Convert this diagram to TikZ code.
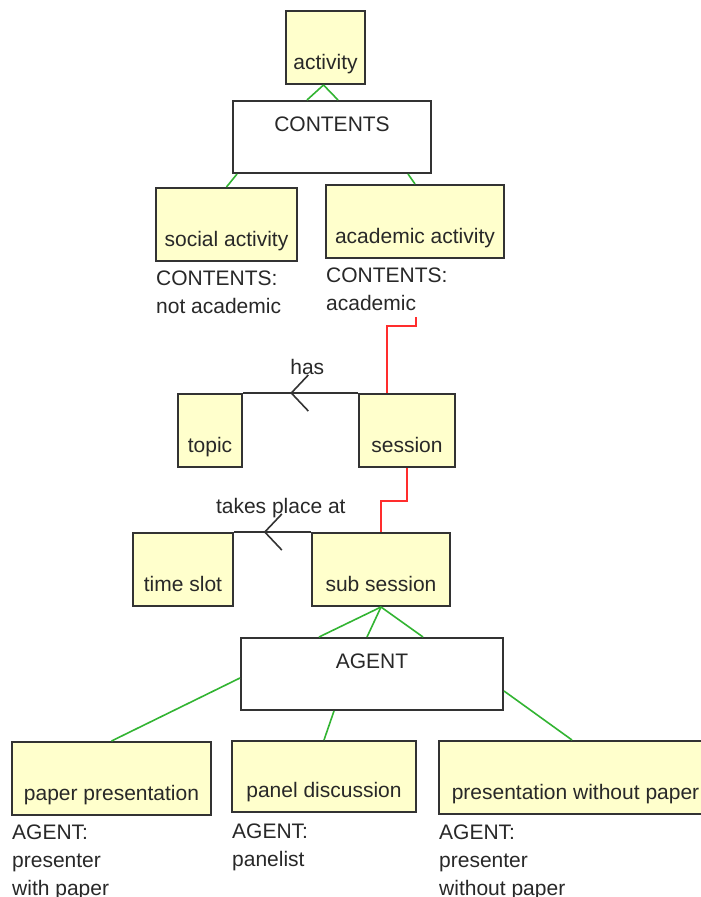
\documentclass[tikz,border=0pt]{standalone}
\usepackage{fontspec}
\setmainfont{Liberation Sans}
\usetikzlibrary{calc}
\definecolor{conceptfill}{RGB}{255,255,204}
\definecolor{edgegray}{RGB}{51,51,51}
\definecolor{txtgray}{RGB}{40,40,40}
\definecolor{isagreen}{RGB}{50,180,50}
\definecolor{linkred}{RGB}{255,45,45}

\begin{document}
\begin{tikzpicture}[x=1pt,y=-1pt,
  every node/.style={font=\fontsize{21}{28}\selectfont, text=txtgray},
  concept/.style={draw=edgegray, line width=2pt, fill=conceptfill, rectangle,
    inner xsep=0pt, inner ysep=0pt, text height=58pt, text depth=15pt, anchor=south},
  context/.style={draw=edgegray, line width=2pt, fill=white, rectangle,
    inner xsep=0pt, inner ysep=0pt, text height=30pt, text depth=42pt, anchor=south},
  note/.style={align=left, anchor=base west, inner sep=0pt},
  isa/.style={draw=isagreen, line width=1.6pt},
  link/.style={draw=linkred, line width=1.6pt},
  rel/.style={draw=edgegray, line width=1.6pt},
  rellabel/.style={anchor=base, inner sep=0pt}]

\path[use as bounding box, fill=white] (0,0) rectangle (701,897);
\clip (0,0) rectangle (701,897);

% concept boxes (placed by their bottom edge)
\node[concept, minimum width=79pt]  (activity)   at (325.5,85)  {activity};
\node[context, minimum width=198pt] (contents)   at (332,174)   {CONTENTS};
\node[concept, minimum width=141pt] (social)     at (226.5,262) {social activity};
\node[concept, minimum width=178pt] (academic)   at (415,259)   {academic activity};
\node[concept, minimum width=64pt]  (topic)      at (210,468)   {topic};
\node[concept, minimum width=96pt]  (session)    at (407,468)   {session};
\node[concept, minimum width=100pt] (timeslot)   at (183,607)   {time slot};
\node[concept, minimum width=138pt] (subsession) at (381,607)   {sub session};
\node[context, minimum width=262pt] (agent)      at (372,711)   {AGENT};
\node[concept, minimum width=199pt] (paper)      at (111.5,816) {paper presentation};
\node[concept, minimum width=184pt, text height=56pt] (panel) at (324,813) {panel discussion};
\node[concept, minimum width=273pt] (nopaper)    at (575.5,815) {presentation without paper};

% context annotations under the boxes (anchored at the last line's baseline)
\node[note] (soclbl)   at (156,313) {CONTENTS:\\not academic};
\node[note] (acadlbl)  at (326,310) {CONTENTS:\\academic};
\node[note] (paperlbl) at (12,895)  {AGENT:\\presenter\\with paper};
\node[note] (panellbl) at (232,866) {AGENT:\\panelist};
\node[note] (nopaplbl) at (439,895) {AGENT:\\presenter\\without paper};

% type hierarchy links
\draw[isa] ($(activity.south)+(-2,0)$) -- ($(contents.north west)+(75,0)$);
\draw[isa] ($(activity.south)+(-2,0)$) -- ($(contents.north west)+(106,0)$);
\draw[isa] ($(contents.south west)+(5,0)$) -- (social.north);
\draw[isa] ($(contents.south east)+(-24,0)$) -- (academic.north);
\draw[isa] (subsession.south) -- ($(agent.north west)+(79,0)$);
\draw[isa] (subsession.south) -- ($(agent.north west)+(127,0)$);
\draw[isa] (subsession.south) -- ($(agent.north west)+(183,0)$);
\draw[isa] ($(agent.north west)+(0,41)$) -- (paper.north);
\draw[isa] ($(agent.south west)+(94,0)$) -- (panel.north);
\draw[isa] ($(agent.north east)+(0,54)$) -- ($(nopaper.north west)+(134,0)$);

% refinement links
\coordinate (acadref) at ($(academic.south)+(1,58)$);
\draw[link] (acadref) -- ++(0,9) -| ($(session.north west)+(29,0)$);
\draw[link] (session.south) -- ++(0,33) -| (subsession.north);

% relations
\path (session.north west) -- (topic.north east) coordinate[pos=0.58] (hastip);
\draw[rel] (session.north west) -- (topic.north east);
\draw[rel] ($(hastip)+(17,-18)$) -- (hastip) -- ($(hastip)+(17,18)$);
\node[rellabel] (haslbl) at ($(hastip)+(16,-19)$) {has};

\path (subsession.north west) -- (timeslot.north east) coordinate[pos=0.6] (placetip);
\draw[rel] (subsession.north west) -- (timeslot.north east);
\draw[rel] ($(placetip)+(17,-18)$) -- (placetip) -- ($(placetip)+(17,18)$);
\node[rellabel] (placelbl) at ($(placetip)+(16,-19)$) {takes place at};
\end{tikzpicture}
\end{document}
